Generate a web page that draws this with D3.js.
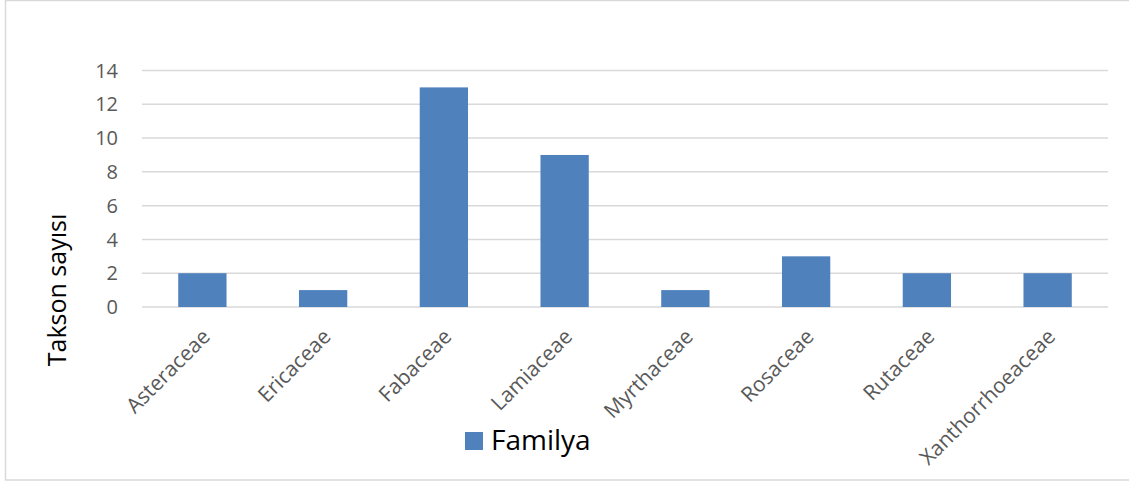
<!DOCTYPE html>
<html>
<head>
<meta charset="utf-8">
<script src="https://cdn.jsdelivr.net/npm/d3@7"></script>
<style>
  body { margin: 0; background: #fff; }
  svg { font-family: "Open Sans", sans-serif; }
</style>
</head>
<body>
<script>
// chart data
const families = ["Asteraceae", "Ericaceae", "Fabaceae", "Lamiaceae", "Myrthaceae", "Rosaceae", "Rutaceae", "Xanthorrhoeaceae"];
const taxonCounts = [2, 1, 13, 9, 1, 3, 2, 2];
const yTicks = [0, 2, 4, 6, 8, 10, 12, 14];
const seriesName = "Familya";
const yTitle = "Takson sayısı";

const width = 1129, height = 482;
const plotLeft = 142, plotRight = 1108, plotTop = 70.5, plotBottom = 307;
const barColor = "#4f81bd";

var svg = d3.select("body").append("svg")
    .attr("width", width)
    .attr("height", height);

// outer frame
svg.append("rect")
    .attr("x", 5.5).attr("y", 0.5)
    .attr("width", width + 10).attr("height", 479.5)
    .attr("fill", "none")
    .attr("stroke", "#d9d9d9")
    .attr("stroke-width", 1.5);

let x = d3.scaleBand().domain(families).range([plotLeft, plotRight]).padding(0);
let y = d3.scaleLinear().domain([0, 14]).range([plotBottom, plotTop]);

// gridlines
svg.append("g")
    .selectAll("line")
    .data(yTicks)
    .enter().append("line")
    .attr("x1", plotLeft).attr("x2", plotRight)
    .attr("y1", d => y(d)).attr("y2", d => y(d))
    .attr("stroke", "#d9d9d9")
    .attr("stroke-width", 1.5);

// y tick labels
svg.append("g")
    .selectAll("text")
    .data(yTicks)
    .enter().append("text")
    .attr("x", 118)
    .attr("y", d => y(d))
    .attr("dy", "0.36em")
    .attr("text-anchor", "end")
    .attr("font-size", 20)
    .attr("fill", "#595959")
    .text(d => d);

// bars
let bw = x.bandwidth() * 0.4;
svg.append("g")
    .selectAll("rect")
    .data(families)
    .enter().append("rect")
    .attr("x", d => x(d) + (x.bandwidth() - bw) / 2)
    .attr("y", (d, i) => y(taxonCounts[i]))
    .attr("width", bw)
    .attr("height", (d, i) => y(0) - y(taxonCounts[i]))
    .attr("fill", barColor);

// category labels
svg.append("g")
    .selectAll("text")
    .data(families)
    .enter().append("text")
    .attr("transform", d => `translate(${x(d) + x.bandwidth() / 2 + 9}, 338) rotate(-45)`)
    .attr("text-anchor", "end")
    .attr("font-size", 21)
    .attr("fill", "#595959")
    .text(d => d);

// y axis title
svg.append("text")
    .attr("transform", "translate(66, 290) rotate(-90)")
    .attr("text-anchor", "middle")
    .attr("font-size", 25)
    .attr("fill", "#000")
    .text(yTitle);

// legend
svg.append("rect")
    .attr("x", 465).attr("y", 432)
    .attr("width", 18).attr("height", 18)
    .attr("fill", barColor);
svg.append("text")
    .attr("x", 491).attr("y", 450)
    .attr("font-size", 28)
    .attr("fill", "#000")
    .text(seriesName);
</script>
</body>
</html>
